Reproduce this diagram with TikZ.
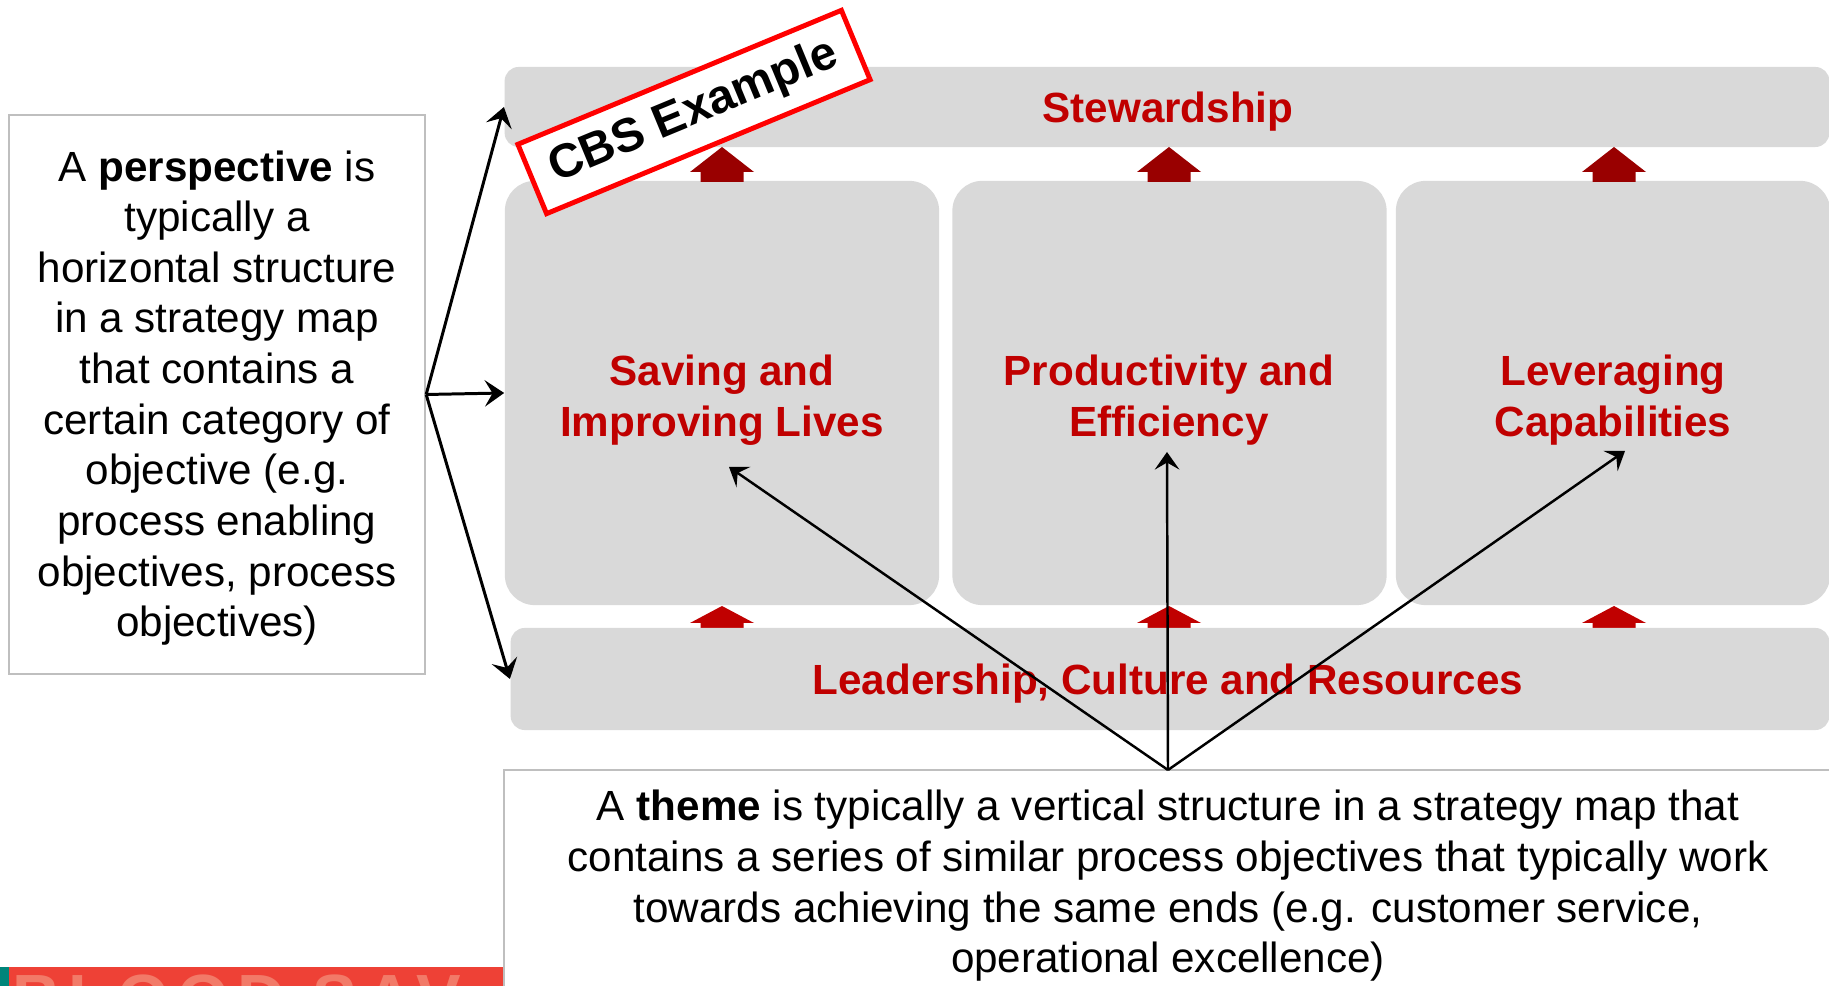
\documentclass[tikz,border=0pt]{standalone}
\usepackage{fontspec}
\setmainfont{Liberation Sans}
\newfontfamily\blfont[LetterSpace=12]{Liberation Sans}
\usetikzlibrary{arrows.meta}
\definecolor{boxgray}{HTML}{D9D9D9}
\definecolor{txtred}{HTML}{C00000}
\definecolor{darkred}{HTML}{990000}
\definecolor{cbsred}{HTML}{FF0000}
\definecolor{framegray}{HTML}{BFBFBF}
\definecolor{stripred}{HTML}{EE4136}
\definecolor{stripteal}{HTML}{00857A}
\definecolor{stripletter}{HTML}{F27A68}
\newcommand\upblock[5]{\fill[#5] (#1,#2) -- ({#1+32},#3) -- ({#1+21.5},#3) -- ({#1+21.5},#4) -- ({#1-21.5},#4) -- ({#1-21.5},#3) -- ({#1-32},#3) -- cycle;}
\begin{document}
\begin{tikzpicture}[x=0.01cm,y=-0.01cm,
  band/.style={fill=boxgray, draw=none, rounded corners=4pt, inner sep=0pt},
  colbox/.style={fill=boxgray, draw=none, rounded corners=8.5pt, inner sep=0pt, minimum width=4.34cm, minimum height=4.24cm},
  redlabel/.style={text=txtred, font=\fontsize{12}{14.4}\selectfont\bfseries, align=center, inner sep=0pt},
  infobox/.style={draw=framegray, line width=0.6pt, fill=white, inner sep=0pt},
  infotext/.style={font=\fontsize{12}{14.4}\selectfont, align=center, inner sep=0pt},
  pointer/.style={line width=0.85pt, -{Stealth[length=5.5pt,width=7.5pt,inset=2.2pt]}},
  themeptr/.style={line width=0.7pt, -{Stealth[length=5pt,width=7pt,inset=2pt]}},
  cbs/.style={draw=cbsred, line width=1.4pt, fill=white, rotate=22.5, minimum width=3.5cm, minimum height=0.75cm, inner sep=0pt, font=\fontsize{13.5}{16}\selectfont\bfseries},
]
\clip (0,0) rectangle (1829,986);
\fill[white] (0,0) rectangle (1829,986);

% bottom-left strip
\fill[stripteal] (0,967) rectangle (9,986);
\fill[stripred] (9,967) rectangle (504,986);
\begin{scope}
\clip (9,967) rectangle (504,986);
\node[anchor=base west, inner sep=0pt, text=stripletter, font=\blfont\bfseries\fontsize{19}{21}\selectfont] (bloodtext) at (12,1022) {BLOOD SAV};
\end{scope}

% perspective box
\node[infobox, minimum width=4.16cm, minimum height=5.59cm] (pers) at (217,394.5) {};
\node[infotext] (perstext) at (217,398) {A \textbf{perspective} is\\typically a\\horizontal structure\\in a strategy map\\that contains a\\certain category of\\objective (e.g.\\process enabling\\objectives, process\\objectives)};

% theme box
\node[infobox, minimum width=13.36cm, minimum height=2.30cm] (theme) at (1172,885) {};
\node[infotext] (themetext) at (1168,886) {A \textbf{theme} is typically a vertical structure in a strategy map that\\contains a series of similar process objectives that typically work\\towards achieving the same ends (e.g. customer service,\\operational excellence)};

% bands and columns
\node[band, minimum width=13.24cm, minimum height=0.80cm] (stew) at (1167,107) {};
\node[redlabel] (stewtext) at (1168,112) {Stewardship};

\node[colbox] (col1) at (722,393) {};
\node[colbox] (col2) at (1169.5,393) {};
\node[colbox] (col3) at (1613,393) {};
\node[redlabel] (c1text) at (722,400) {Saving and\\Improving Lives};
\node[redlabel] (c2text) at (1169,400) {Productivity and\\Efficiency};
\node[redlabel] (c3text) at (1613,400) {Leveraging\\Capabilities};

% block arrows
\upblock{722}{147}{172}{182}{darkred}
\upblock{1169}{147}{172}{182}{darkred}
\upblock{1614}{147}{172}{182}{darkred}
\upblock{722}{606}{623}{630}{txtred}
\upblock{1169}{606}{623}{630}{txtred}
\upblock{1614}{606}{623}{630}{txtred}

\node[band, minimum width=13.18cm, minimum height=1.02cm] (lead) at (1170,679) {};
\node[redlabel] (leadtext) at (1168,684) {Leadership, Culture and Resources};

% perspective pointers
\draw[pointer] (pers.east) -- (stew.west);
\draw[pointer] (pers.east) -- (col1.west);
\draw[pointer] (pers.east) -- (lead.west);

% theme pointers
\coordinate (themeorigin) at (1168,770);
\coordinate (aim1) at (729,467);
\coordinate (aim2) at (1167,452);
\coordinate (aim3) at (1625,451);
\draw[themeptr] (themeorigin) -- (aim1);
\draw[themeptr] (themeorigin) -- (aim2);
\draw[themeptr] (themeorigin) -- (aim3);

% CBS stamp
\node[cbs] (cbsstamp) at (694,112) {CBS Example};
\end{tikzpicture}
\end{document}
